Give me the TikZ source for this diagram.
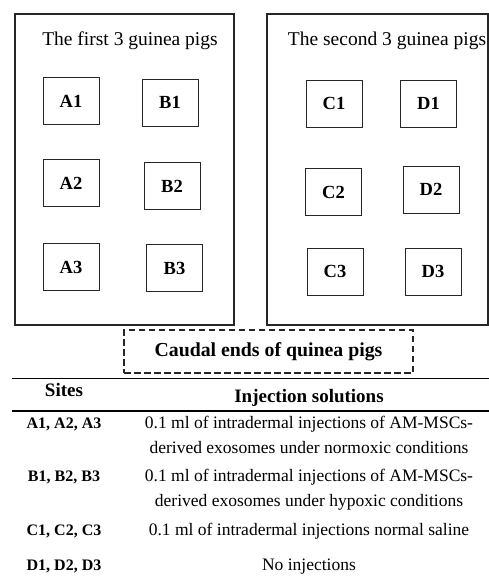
\documentclass[tikz,border=0pt]{standalone}
\usepackage{fontspec}
\setmainfont{Liberation Serif}
\begin{document}
\begin{tikzpicture}[x=1pt,y=-1pt,
  bigbox/.style={draw=black!85,line width=1.1pt,minimum height=311pt,inner sep=0pt},
  site/.style={draw=black!85,line width=1pt,minimum width=56pt,minimum height=47pt,
    inner sep=0pt,font=\fontsize{18.5}{18.5}\selectfont\bfseries},
  boxtitle/.style={font=\fontsize{19.5}{19.5}\selectfont,inner sep=0pt,anchor=base},
  cell/.style={font=\fontsize{17.5}{25}\selectfont,align=center,inner sep=0pt,anchor=base},
  sitecell/.style={font=\fontsize{16}{18}\selectfont\bfseries,inner sep=0pt,anchor=base},
  headcell/.style={font=\fontsize{19}{19}\selectfont\bfseries,inner sep=0pt,anchor=base}]
\useasboundingbox (0,0) rectangle (489,576);
% the two groups of animals
\node[bigbox,minimum width=219pt] (g1) at (124.5,169.5) {};
\node[bigbox,minimum width=221pt] (g2) at (377.5,169.5) {};
\node[boxtitle] (t1) at (130,45) {The first 3 guinea pigs};
\node[boxtitle] (t2) at (387,45) {The second 3 guinea pigs};
% injection sites
\node[site] (A1) at (71,101) {A1};
\node[site] (B1) at (170,102.5) {B1};
\node[site] (A2) at (71,183) {A2};
\node[site] (B2) at (172,186) {B2};
\node[site] (A3) at (71,267) {A3};
\node[site] (B3) at (174.5,268) {B3};
\node[site] (C1) at (334,103.5) {C1};
\node[site] (D1) at (428.5,103.5) {D1};
\node[site] (C2) at (333.5,192) {C2};
\node[site] (D2) at (431,189.5) {D2};
\node[site] (C3) at (335,271.5) {C3};
\node[site] (D3) at (433,271.5) {D3};
% caption
\node[draw=black!85,dash pattern=on 6.5pt off 3.5pt,line width=1.1pt,minimum width=289pt,minimum height=43pt,
  font=\fontsize{19.8}{19.8}\selectfont\bfseries] (cap) at (268.5,351.5) {Caudal ends of quinea pigs};
% table
\coordinate (r1l) at (12,378); \coordinate (r1r) at (489,378);
\coordinate (r2l) at (12,411); \coordinate (r2r) at (489,411);
\draw[line width=0.9pt] (r1l) -- (r1r);
\draw[line width=1.8pt] (r2l) -- (r2r);
\node[headcell] (hs) at (64,396) {Sites};
\node[headcell] (hi) at (309,402) {Injection solutions};
% two-line cells are placed by the baseline of their second line
\node[sitecell] (sa) at (64,428) {A1, A2, A3};
\node[cell] (ia) at (309,453) {0.1 ml of intradermal injections of AM-MSCs-\\derived exosomes under normoxic conditions};
\node[sitecell] (sb) at (64,481) {B1, B2, B3};
\node[cell] (ib) at (309,506) {0.1 ml of intradermal injections of AM-MSCs-\\derived exosomes under hypoxic conditions};
\node[sitecell] (sc) at (64,535) {C1, C2, C3};
\node[cell] (ic) at (309,535) {0.1 ml of intradermal injections normal saline};
\node[sitecell] (sd) at (64,570) {D1, D2, D3};
\node[cell] (id) at (309,570) {No injections};
\end{tikzpicture}
\end{document}
